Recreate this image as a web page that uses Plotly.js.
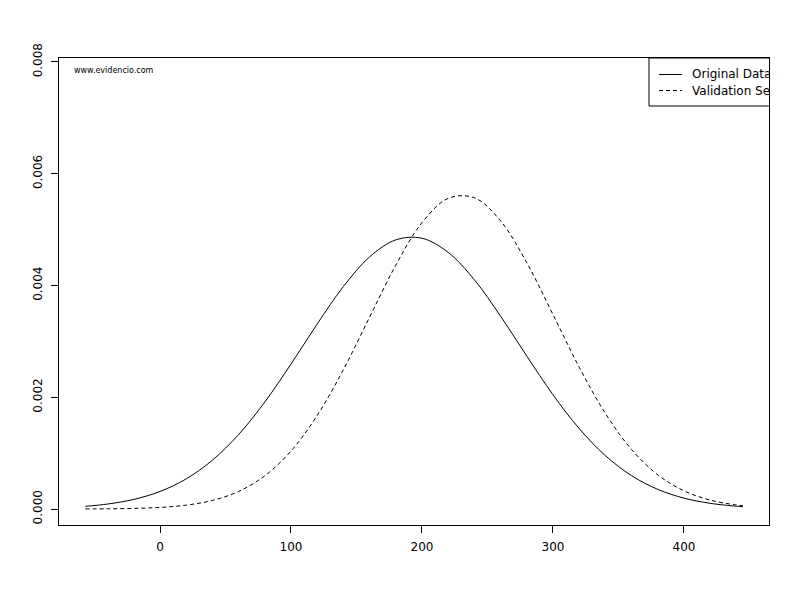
<!DOCTYPE html>
<html>
<head>
<meta charset="utf-8">
<script src="https://cdn.plot.ly/plotly-3.0.1.min.js"></script>
<style>
  html, body { margin: 0; padding: 0; background: #fff; }
  #wrap { position: relative; width: 800px; height: 600px; }
  #chart { position: absolute; left: 0; top: 0; width: 800px; height: 600px; }
  #clip { position: absolute; left: 770px; top: 40px; width: 30px; height: 80px; background: #fff; }
</style>
</head>
<body>
<div id="wrap">
  <div id="chart"></div>
  <div id="clip"></div>
</div>
<script>
// x positions at which the curves were read
const xValues = [-57, -40, -20, 0, 20, 40, 60, 80, 100, 120, 140, 160, 180, 200, 220, 240, 260, 280, 300, 320, 340, 360, 380, 400, 420, 440, 445];

// density values
const originalData = [0.0000484, 0.0000889, 0.0001722, 0.0003139, 0.0005394, 0.0008735, 0.0013324, 0.0019153, 0.0025943, 0.0033109, 0.0039812, 0.0045112, 0.0048162, 0.0048449, 0.0045923, 0.0041015, 0.0034516, 0.0027370, 0.0020449, 0.0014396, 0.0009550, 0.0005969, 0.0003514, 0.0001950, 0.0001020, 0.0000503, 0.0000417];

const validationSet = [0.0000015, 0.0000040, 0.0000111, 0.0000289, 0.0000693, 0.0001536, 0.0003144, 0.0005944, 0.0010378, 0.0016740, 0.0024941, 0.0034327, 0.0043639, 0.0051247, 0.0055589, 0.0055699, 0.0051552, 0.0044075, 0.0034807, 0.0025391, 0.0017110, 0.0010650, 0.0006123, 0.0003252, 0.0001595, 0.0000723, 0.0000586];

const seriesNames = ["Original Data", "Validation Set"];
const xTicks = [0, 100, 200, 300, 400];
const yTicks = [0, 0.002, 0.004, 0.006, 0.008];
const yTickText = ["0.000", "0.002", "0.004", "0.006", "0.008"];
const watermark = "www.evidencio.com";

const FONT = "DejaVu Sans, sans-serif";
const DASH = "4px,3px";

const traces = [
  {
    x: xValues, y: originalData, type: "scatter", mode: "lines",
    name: seriesNames[0],
    line: { color: "#000", width: 1, shape: "spline", smoothing: 1 },
    showlegend: false, hoverinfo: "skip"
  },
  {
    x: xValues, y: validationSet, type: "scatter", mode: "lines",
    name: seriesNames[1],
    line: { color: "#000", width: 1, dash: DASH, shape: "spline", smoothing: 1 },
    showlegend: false, hoverinfo: "skip"
  }
];

// legend geometry (paper coords)
const lgLeft = 0.8310, lgBottom = 0.8972;
const row1 = 0.9647, row2 = 0.9304;
const sx0 = 0.8451, sx1 = 0.8775, tx = 0.8894;

const layout = {
  width: 800, height: 600,
  margin: { l: 59, r: 31, t: 58, b: 75, pad: 0 },
  paper_bgcolor: "#fff", plot_bgcolor: "#fff",
  font: { family: FONT, size: 12, color: "#000" },
  showlegend: false,
  xaxis: {
    range: [-77.1, 464.9], tickmode: "array", tickvals: xTicks,
    ticks: "outside", ticklen: 7, tickwidth: 1, tickcolor: "#000",
    showline: true, mirror: true, linecolor: "#000", linewidth: 1,
    showgrid: false, zeroline: false,
    tickfont: { family: FONT, size: 12, color: "#000" },
    ticklabelstandoff: 4
  },
  yaxis: {
    range: [-0.000286, 0.008071], tickmode: "array", tickvals: yTicks, ticktext: yTickText,
    tickangle: -90,
    ticks: "outside", ticklen: 7, tickwidth: 1, tickcolor: "#000",
    showline: true, mirror: true, linecolor: "#000", linewidth: 1,
    showgrid: false, zeroline: false,
    tickfont: { family: FONT, size: 12, color: "#000" },
    ticklabelstandoff: 4
  },
  shapes: [
    { type: "rect", xref: "paper", yref: "paper", x0: lgLeft, x1: 1.2, y0: lgBottom, y1: 1.0,
      line: { color: "#000", width: 1 }, fillcolor: "rgba(0,0,0,0)" },
    { type: "line", xref: "paper", yref: "paper", x0: sx0, x1: sx1, y0: row1, y1: row1,
      line: { color: "#000", width: 1 } },
    { type: "line", xref: "paper", yref: "paper", x0: sx0, x1: sx1, y0: row2, y1: row2,
      line: { color: "#000", width: 1, dash: DASH } }
  ],
  annotations: [
    { xref: "paper", yref: "paper", x: tx, y: row1, xanchor: "left", yanchor: "middle",
      text: seriesNames[0], showarrow: false, font: { family: FONT, size: 12, color: "#000" } },
    { xref: "paper", yref: "paper", x: tx, y: row2, xanchor: "left", yanchor: "middle",
      text: seriesNames[1], showarrow: false, font: { family: FONT, size: 12, color: "#000" } },
    { xref: "paper", yref: "paper", x: 0.0183, y: 0.9722, xanchor: "left", yanchor: "middle",
      text: watermark, showarrow: false, font: { family: FONT, size: 8, color: "#000" } }
  ]
};

Plotly.newPlot("chart", traces, layout, { staticPlot: true, displayModeBar: false });
</script>
</body>
</html>
